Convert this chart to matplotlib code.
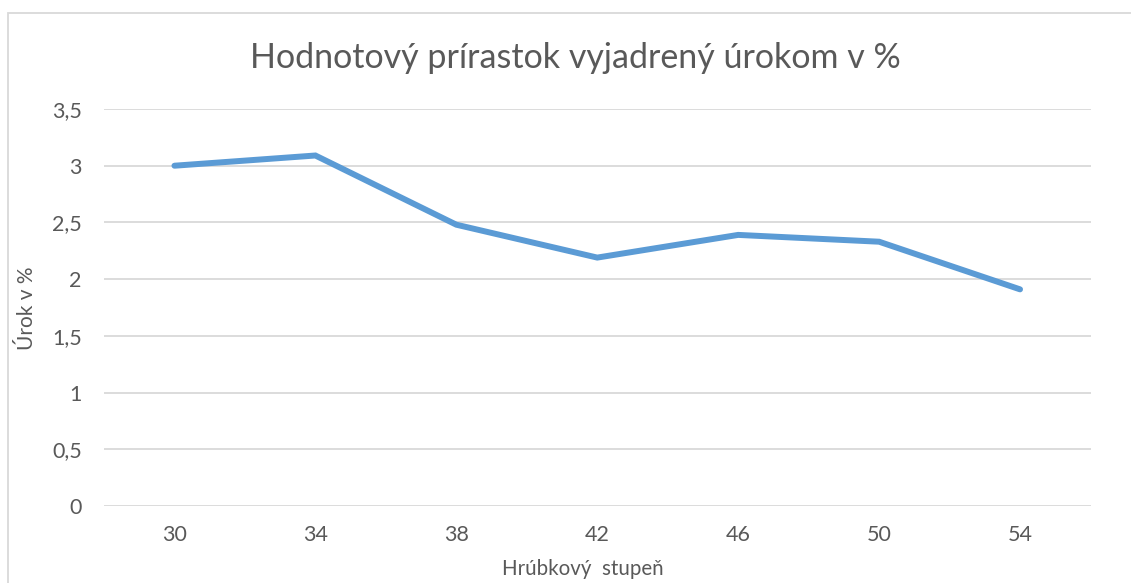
import matplotlib.pyplot as plt
from matplotlib.patches import Rectangle
from matplotlib.ticker import FuncFormatter

plt.rcParams['font.family'] = ['Lato', 'DejaVu Sans']

stupne = ['30', '34', '38', '42', '46', '50', '54']
urok = [3.0, 3.09, 2.48, 2.19, 2.39, 2.33, 1.91]
y_ticks = [0, 0.5, 1, 1.5, 2, 2.5, 3, 3.5]

W, H = 1131, 583
fig = plt.figure(figsize=(W / 100, H / 100), dpi=100)

# chart border (Excel chart area), cut at right/bottom edge
fig.patches.append(Rectangle((8 / W, -0.1), 1.2, 1 - 13 / H + 0.1,
                             transform=fig.transFigure, fill=False,
                             edgecolor='#d9d9d9', linewidth=1.3))

ax = fig.add_axes([104 / W, (H - 506) / H, (1090.5 - 104) / W, (506 - 109) / H])
x = list(range(len(stupne)))
ax.plot(x, urok, color='#5b9bd5', linewidth=4.3, solid_capstyle='round',
        solid_joinstyle='miter')

ax.set_xlim(-0.5, len(stupne) - 0.5)
ax.set_ylim(0, 3.5)
ax.set_yticks(y_ticks)
ax.yaxis.set_major_formatter(FuncFormatter(lambda v, p: ('%g' % v).replace('.', ',')))
ax.set_xticks(x)
ax.set_xticklabels(stupne)
ax.grid(axis='y', color='#d9d9d9', linewidth=1.3)
ax.set_axisbelow(True)
for s in ax.spines.values():
    s.set_visible(False)
ax.tick_params(length=0, labelsize=15.5, labelcolor='#595959')
ax.tick_params(axis='y', pad=16)
ax.tick_params(axis='x', pad=14)

fig.text(575 / W, 1 - 58 / H, 'Hodnotový prírastok vyjadrený úrokom v %',
         ha='center', va='center', fontsize=24.5, color='#595959')
fig.text(583 / W, 1 - 569 / H, 'Hrúbkový  stupeň', ha='center', va='center',
         fontsize=14.8, color='#595959')
fig.text(27 / W, 1 - 308 / H, 'Úrok v %', ha='center', va='center', rotation=90,
         fontsize=15, color='#595959')

fig.savefig('out.png', dpi=100)
